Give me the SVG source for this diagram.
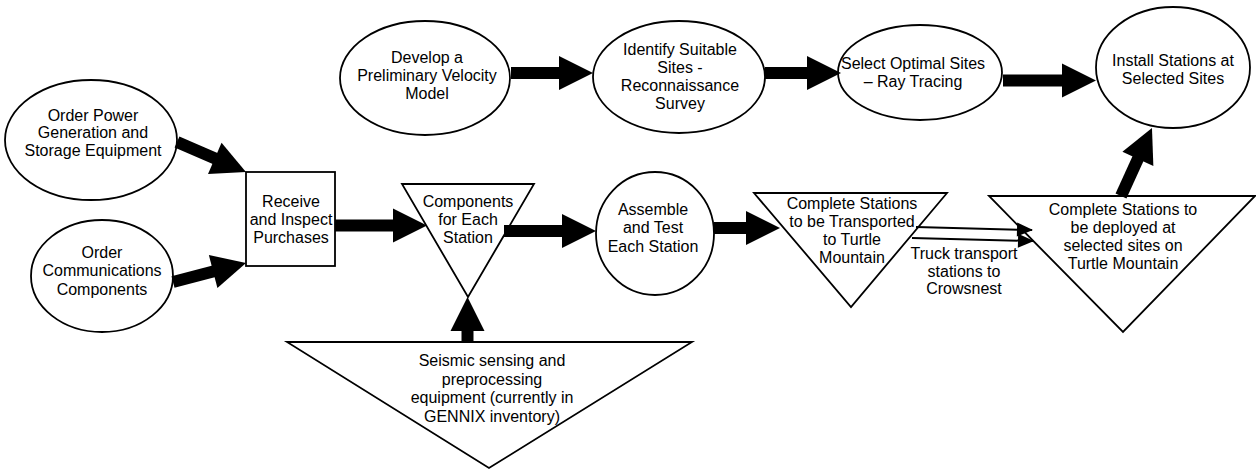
<svg xmlns="http://www.w3.org/2000/svg" width="1256" height="471" viewBox="0 0 1256 471">
<style>
.node{fill:#fff;stroke:#000;stroke-width:1.8}
.lbl{font-family:"Liberation Sans",Arial,sans-serif;font-size:16px;fill:#000;text-anchor:middle}
.conn{stroke:#000;stroke-width:12;fill:none;marker-end:url(#ah)}
.thin{stroke:#000;stroke-width:2;fill:none;marker-end:url(#ahs)}
</style>
<defs>
<marker id="ah" markerUnits="userSpaceOnUse" markerWidth="34" markerHeight="34" viewBox="0 0 34 34" refX="1" refY="17" orient="auto" overflow="visible"><path d="M0,0 L34,17 L0,34 z" fill="#000"/></marker>
<marker id="ahs" markerUnits="userSpaceOnUse" markerWidth="16" markerHeight="14" viewBox="0 0 16 14" refX="15" refY="7" orient="auto" overflow="visible"><path d="M0,0 L16,7 L0,14 z" fill="#000"/></marker>
</defs>
<rect width="1256" height="471" fill="#fff"/>

<g id="order-power">
<ellipse class="node" cx="91" cy="140" rx="86" ry="60"/>
<text class="lbl" x="93"><tspan x="93" y="120.5">Order Power</tspan><tspan x="93" y="138">Generation and</tspan><tspan x="93" y="155.5">Storage Equipment</tspan></text>
</g>
<g id="order-comms">
<ellipse class="node" cx="102" cy="276" rx="71" ry="56"/>
<text class="lbl"><tspan x="102" y="257.5">Order</tspan><tspan x="102" y="276">Communications</tspan><tspan x="102" y="294.5">Components</tspan></text>
</g>
<g id="receive">
<rect class="node" x="246" y="172" width="89" height="94"/>
<text class="lbl"><tspan x="291" y="206.5">Receive</tspan><tspan x="291" y="224.8">and Inspect</tspan><tspan x="291" y="243">Purchases</tspan></text>
</g>
<g id="components">
<polygon class="node" points="402,184 534,184 468,297"/>
<text class="lbl"><tspan x="468" y="206.5">Components</tspan><tspan x="468" y="224.8">for Each</tspan><tspan x="468" y="243">Station</tspan></text>
</g>
<g id="seismic">
<polygon class="node" points="287,342 692,342 489,468"/>
<text class="lbl"><tspan x="492" y="366">Seismic sensing and</tspan><tspan x="492" y="384.5">preprocessing</tspan><tspan x="492" y="403">equipment (currently in</tspan><tspan x="492" y="421.5">GENNIX inventory)</tspan></text>
</g>
<g id="assemble">
<ellipse class="node" cx="655" cy="233.5" rx="59" ry="61.5"/>
<text class="lbl"><tspan x="653" y="214.5">Assemble</tspan><tspan x="653" y="233">and Test</tspan><tspan x="653" y="251.5">Each Station</tspan></text>
</g>
<g id="transported">
<polygon class="node" points="754,193 947,193 851,307"/>
<text class="lbl"><tspan x="852" y="208.5">Complete Stations</tspan><tspan x="852" y="226.8">to be Transported</tspan><tspan x="852" y="245.1">to Turtle</tspan><tspan x="852" y="263.4">Mountain</tspan></text>
</g>
<g id="deployed">
<polygon class="node" points="989,196 1255,196 1123,332"/>
<text class="lbl"><tspan x="1123" y="214.5">Complete Stations to</tspan><tspan x="1123" y="232.8">be deployed at</tspan><tspan x="1123" y="251.1">selected sites on</tspan><tspan x="1123" y="269.4">Turtle Mountain</tspan></text>
</g>
<g id="develop">
<ellipse class="node" cx="425" cy="78" rx="85" ry="57"/>
<text class="lbl"><tspan x="427" y="62.5">Develop a</tspan><tspan x="427" y="80.8">Preliminary Velocity</tspan><tspan x="427" y="99">Model</tspan></text>
</g>
<g id="identify">
<ellipse class="node" cx="679" cy="77" rx="86" ry="56"/>
<text class="lbl"><tspan x="680" y="54.5">Identify Suitable</tspan><tspan x="680" y="72.8">Sites -</tspan><tspan x="680" y="91.1">Reconnaissance</tspan><tspan x="680" y="109.4">Survey</tspan></text>
</g>
<g id="select">
<ellipse class="node" cx="920" cy="72.5" rx="82" ry="47.5"/>
<text class="lbl"><tspan x="913" y="68.5">Select Optimal Sites</tspan><tspan x="913" y="86.8">– Ray Tracing</tspan></text>
</g>
<g id="install">
<ellipse class="node" cx="1173" cy="67.5" rx="77" ry="60.5"/>
<text class="lbl"><tspan x="1173" y="65.5">Install Stations at</tspan><tspan x="1173" y="83.5">Selected Sites</tspan></text>
</g>

<g id="connectors">
<line class="conn" x1="177" y1="142" x2="215.7" y2="158.8"/>
<line class="conn" x1="173" y1="282" x2="214.1" y2="271.3"/>
<line class="conn" x1="335" y1="225.5" x2="394" y2="225.5"/>
<line class="conn" x1="504" y1="231" x2="563" y2="231"/>
<line class="conn" x1="467.5" y1="342" x2="467.5" y2="330"/>
<line class="conn" x1="714" y1="228" x2="747" y2="228"/>
<line class="thin" x1="916" y1="227" x2="1032" y2="230"/>
<line class="thin" x1="912" y1="238" x2="1033" y2="241"/>
<line class="conn" x1="1121" y1="196" x2="1138.3" y2="158"/>
<line class="conn" x1="511" y1="73" x2="560" y2="73"/>
<line class="conn" x1="765" y1="73" x2="808" y2="73"/>
<line class="conn" x1="1003" y1="80.5" x2="1063" y2="80.5"/>
<text class="lbl"><tspan x="964" y="258.5">Truck transport</tspan><tspan x="964" y="276.5">stations to</tspan><tspan x="964" y="294">Crowsnest</tspan></text>
</g>
</svg>
